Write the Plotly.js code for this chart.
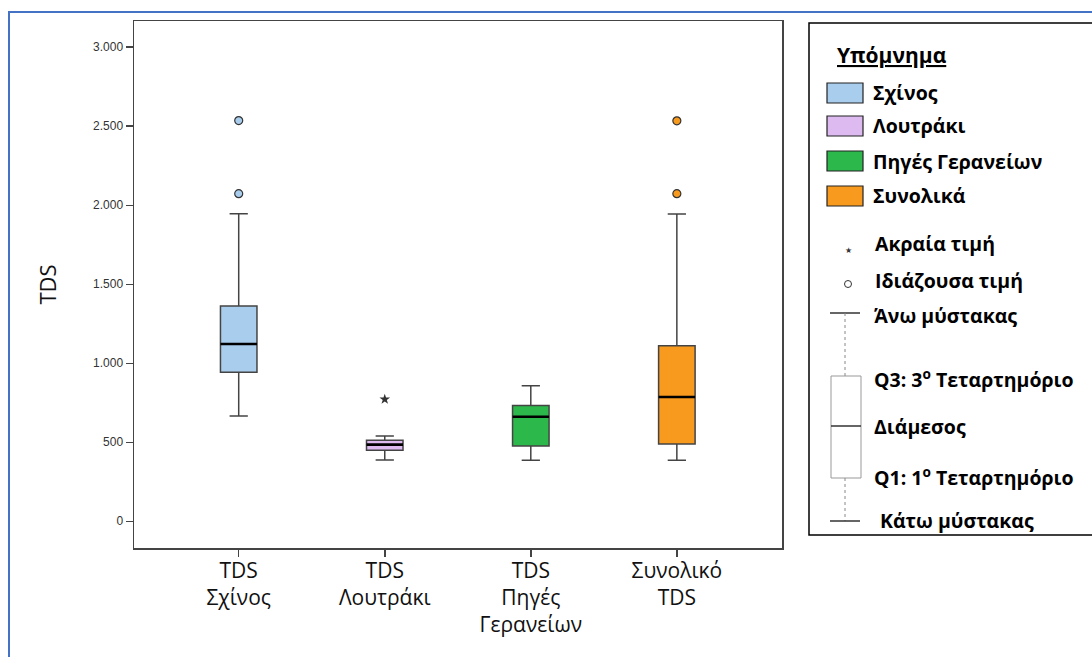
<!DOCTYPE html>
<html>
<head>
<meta charset="utf-8">
<script src="https://cdn.plot.ly/plotly-3.0.1.min.js"></script>
<style>
  html, body { margin: 0; padding: 0; background: #ffffff; }
  #chart { width: 1092px; height: 657px; }
</style>
</head>
<body>
<div id="chart"></div>
<script>
// ---------------- data ----------------
const categories = ["TDS<br>Σχίνος", "TDS<br>Λουτράκι", "TDS<br>Πηγές<br>Γερανείων", "Συνολικό<br>TDS"];
const groupNames = ["Σχίνος", "Λουτράκι", "Πηγές Γερανείων", "Συνολικά"];
const lowerWhisker = [666, 388, 386, 386];
const q1 = [943, 449, 477, 489];
const median = [1122, 485, 662, 787];
const q3 = [1362, 513, 732, 1111];
const upperWhisker = [1947, 540, 858, 1945];
const outliers = [[2073, 2536], [], [], [2073, 2534]];
const extremes = [[], [772], [], []];
const yTickValues = [0, 500, 1000, 1500, 2000, 2500, 3000];

const legendTitle = "Υπόμνημα";
const legendSymbolLabels = ["Ακραία τιμή", "Ιδιάζουσα τιμή"];
const legendBoxLabels = ["Άνω μύστακας", "Q3: 3<sup>ο</sup> Τεταρτημόριο", "Διάμεσος", "Q1: 1<sup>ο</sup> Τεταρτημόριο", "Κάτω μύστακας"];

// ---------------- style ----------------
const fillColors = ["#A9CDEC", "#DDBBF0", "#2DB84C", "#F79A1E"];
const boxWidth = 0.25;
const lineDark = "#444444";
const greekFont = "Open Sans, Noto Sans, DejaVu Sans, sans-serif";

// plot-area geometry in pixels (used to place the drawn legend)
const M = { l: 134, r: 310, t: 21, b: 109 };
const FW = 1092, FH = 657;
const PW = FW - M.l - M.r, PH = FH - M.t - M.b;
const px = p => (p - M.l) / PW;
const py = p => (FH - M.b - p) / PH;

// ---------------- traces ----------------
const traces = [];
categories.forEach((c, i) => {
  traces.push({
    type: "box",
    x: [i],
    q1: [q1[i]],
    median: [median[i]],
    q3: [q3[i]],
    lowerfence: [lowerWhisker[i]],
    upperfence: [upperWhisker[i]],
    width: boxWidth,
    whiskerwidth: 0.5,
    fillcolor: fillColors[i],
    line: { color: lineDark, width: 1.5 },
    boxpoints: false,
    name: groupNames[i],
    showlegend: false,
    hoverinfo: "skip"
  });
});

// thicker black median lines
const mx = [], my = [];
median.forEach((m, i) => {
  mx.push(i - boxWidth / 2, i + boxWidth / 2, null);
  my.push(m, m, null);
});
traces.push({
  type: "scatter", mode: "lines", x: mx, y: my,
  line: { color: "#000000", width: 2.6 },
  showlegend: false, hoverinfo: "skip"
});

// outliers (circles) and extremes (stars)
outliers.forEach((vals, i) => {
  if (!vals.length) return;
  traces.push({
    type: "scatter", mode: "markers",
    x: vals.map(() => i), y: vals,
    marker: { symbol: "circle", size: 8, color: fillColors[i], line: { color: "#333333", width: 1.2 } },
    showlegend: false, hoverinfo: "skip"
  });
});
extremes.forEach((vals, i) => {
  if (!vals.length) return;
  traces.push({
    type: "scatter", mode: "markers",
    x: vals.map(() => i), y: vals,
    marker: { symbol: "star", size: 8, color: "#333333", line: { width: 0 } },
    showlegend: false, hoverinfo: "skip"
  });
});

// ---------------- drawn legend ----------------
const shapes = [];
const annotations = [];

function rectPx(x0, y0, x1, y1, line, fill) {
  shapes.push({
    type: "rect", xref: "paper", yref: "paper",
    x0: px(x0), x1: px(x1), y0: py(y1), y1: py(y0),
    line: line, fillcolor: fill || "rgba(0,0,0,0)", layer: "above"
  });
}
function linePx(x0, y0, x1, y1, line) {
  shapes.push({
    type: "line", xref: "paper", yref: "paper",
    x0: px(x0), x1: px(x1), y0: py(y0), y1: py(y1),
    line: line, layer: "above"
  });
}
function textPx(x, y, text, opts) {
  annotations.push(Object.assign({
    xref: "paper", yref: "paper", x: px(x), y: py(y),
    xanchor: "left", yanchor: "middle", showarrow: false, text: text,
    font: { family: greekFont, size: 19.5, color: "#000000", weight: "bold" }
  }, opts || {}));
}

// outer blue frame
rectPx(9, 12, 1110, 680, { color: "#4472C4", width: 2 });
// legend frame
rectPx(809, 23, 1110, 535, { color: "#000000", width: 1.5 }, "#ffffff");

textPx(835, 55, "<u>" + legendTitle + "</u>", { font: { family: greekFont, size: 21, color: "#000000", weight: "bold" } });

const swatchCenters = [93, 126, 161, 196];
groupNames.forEach((n, i) => {
  const cy = swatchCenters[i];
  rectPx(827, cy - 10, 863, cy + 10, { color: "#222222", width: 1.2 }, fillColors[i]);
  textPx(871, cy, n);
});

// star and circle keys
textPx(848, 250, "★", { xanchor: "center", font: { family: "DejaVu Sans", size: 8, color: "#333333" } });
shapes.push({
  type: "circle", xref: "paper", yref: "paper",
  xsizemode: "pixel", ysizemode: "pixel",
  xanchor: px(848), yanchor: py(284),
  x0: -3.5, x1: 3.5, y0: -3.5, y1: 3.5,
  line: { color: "#333333", width: 1 }, layer: "above"
});
textPx(873, 243, legendSymbolLabels[0]);
textPx(873, 280, legendSymbolLabels[1]);

// schematic box-plot key
linePx(830, 313, 860, 313, { color: "#333333", width: 1.5 });
linePx(845, 313, 845, 376, { color: "#888888", width: 1, dash: "dot" });
rectPx(831, 376, 861, 478, { color: "#999999", width: 1 });
linePx(831, 426, 861, 426, { color: "#333333", width: 1.5 });
linePx(845, 478, 845, 521, { color: "#888888", width: 1, dash: "dot" });
linePx(830, 521, 860, 521, { color: "#333333", width: 1.5 });

const boxLabelY = [315, 378, 426, 476, 520];
const boxLabelX = [872, 872, 872, 872, 878];
legendBoxLabels.forEach((t, i) => textPx(boxLabelX[i], boxLabelY[i], t));

// ---------------- layout ----------------
const layout = {
  width: FW, height: FH,
  margin: M,
  paper_bgcolor: "#ffffff",
  plot_bgcolor: "#ffffff",
  separators: ",.",
  showlegend: false,
  xaxis: {
    range: [-0.717, 3.72],
    tickmode: "array",
    tickvals: categories.map((c, i) => i),
    ticktext: categories,
    ticks: "outside", ticklen: 7, tickwidth: 1.5, tickcolor: lineDark,
    ticklabelstandoff: -4,
    showline: true, linecolor: lineDark, linewidth: 1.5, mirror: true,
    showgrid: false, zeroline: false,
    tickfont: { family: greekFont, size: 21, color: "#111111" }
  },
  yaxis: {
    range: [-169, 3166],
    tickmode: "array",
    tickvals: yTickValues,
    separatethousands: true,
    ticks: "outside", ticklen: 7, tickwidth: 1.5, tickcolor: lineDark,
    showline: true, linecolor: lineDark, linewidth: 1.5, mirror: true,
    showgrid: false, zeroline: false,
    tickfont: { family: "Liberation Sans, Arial, sans-serif", size: 12, color: "#333333" },
    title: { text: "TDS", font: { family: greekFont, size: 22, color: "#111111" }, standoff: 30 }
  },
  shapes: shapes,
  annotations: annotations
};

Plotly.newPlot("chart", traces, layout, { displayModeBar: false, staticPlot: true });
</script>
</body>
</html>
